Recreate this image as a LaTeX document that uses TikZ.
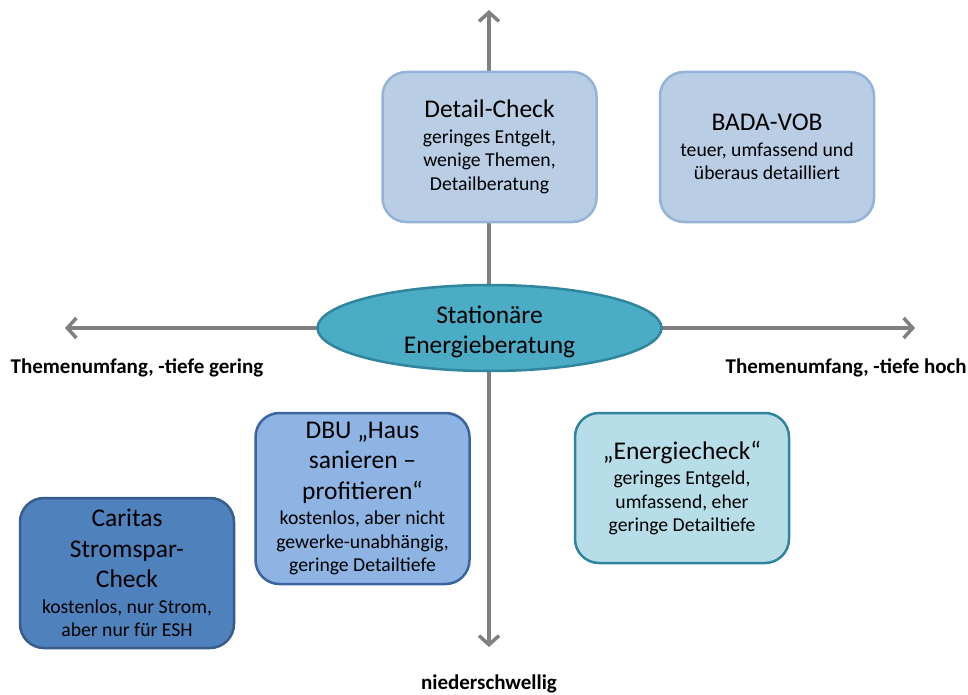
\documentclass[tikz,border=0pt]{standalone}
\usepackage{fontspec}
\setmainfont{Carlito}
\usetikzlibrary{arrows.meta,shapes.geometric}
\definecolor{axisgray}{HTML}{808080}
\definecolor{lbfill}{HTML}{B9CDE5}
\definecolor{lbdraw}{HTML}{95B3D7}
\definecolor{mbfill}{HTML}{8EB4E3}
\definecolor{mbdraw}{HTML}{3A64A0}
\definecolor{dbfill}{HTML}{4F81BD}
\definecolor{dbdraw}{HTML}{385D8A}
\definecolor{tqfill}{HTML}{B7DEE8}
\definecolor{tqdraw}{HTML}{31849B}
\definecolor{elfill}{HTML}{4BACC6}
\definecolor{eldraw}{HTML}{31859C}
\newcommand{\ttlf}{\fontsize{25.5}{30.5}\selectfont}
\newcommand{\smlf}{\fontsize{19.7}{23.5}\selectfont}
\begin{document}
\begin{tikzpicture}[x=1pt,y=-1pt,
  axisline/.style={draw=axisgray,line width=3.5pt,
    arrows={Straight Barb[length=9pt,width=20pt,line width=3.5pt]-Straight Barb[length=9pt,width=20pt,line width=3.5pt]}},
  box/.style={rounded corners=24pt,line width=2.5pt,minimum width=214pt,
    align=center,inner sep=0pt,font=\smlf,text=black},
  lightbox/.style={box,fill=lbfill,draw=lbdraw,minimum height=150pt},
  axislabel/.style={font=\fontsize{21}{25}\selectfont\bfseries,inner sep=0pt}]
\useasboundingbox (0,0) rectangle (968,695);
% axes
\coordinate (top) at (489,10);
\coordinate (bottom) at (489,647);
\coordinate (left) at (65,328);
\coordinate (right) at (915,328);
\draw[axisline] (bottom) -- (top);
\draw[axisline] (left) -- (right);
% boxes
\node[lightbox] (detail) at (489.5,147)
  {{\ttlf Detail-Check}\\[2pt] geringes Entgelt,\\ wenige Themen,\\ Detailberatung};
\node[lightbox] (bada) at (767,147)
  {{\ttlf BADA-VOB}\\[2pt] teuer, umfassend und\\ überaus detailliert};
\node[ellipse,fill=elfill,draw=eldraw,line width=2.5pt,minimum width=344pt,
  minimum height=86pt,inner sep=0pt] (center) at (489.5,328) {};
\node[align=center,font=\ttlf,inner sep=0pt] (centertext) at (489.5,332)
  {Stationäre\\ Energieberatung};
\node[box,fill=mbfill,draw=mbdraw,minimum height=171pt] (dbu) at (362.5,498.5)
  {{\ttlf DBU „Haus}\\[7pt] {\ttlf sanieren –}\\[7pt] {\ttlf profitieren“}\\[2pt]
   kostenlos, aber nicht\\ gewerke-unabhängig,\\ geringe Detailtiefe};
\node[box,fill=dbfill,draw=dbdraw,minimum height=150pt] (caritas) at (127,573)
  {{\ttlf Caritas}\\[7pt] {\ttlf Stromspar-}\\[7pt] {\ttlf Check}\\[2pt]
   kostenlos, nur Strom,\\ aber nur für ESH};
\node[box,fill=tqfill,draw=tqdraw,minimum height=150pt] (energie) at (682,488)
  {{\ttlf „Energiecheck“}\\[2pt] geringes Entgeld,\\ umfassend, eher\\ geringe Detailtiefe};
% axis labels
\node[axislabel] (lgering) at (137,368) {Themenumfang, -tiefe gering};
\node[axislabel,anchor=east] (lhoch) at (967,368) {Themenumfang, -tiefe hoch};
\node[axislabel] (lnieder) at (489,684) {niederschwellig};
\end{tikzpicture}
\end{document}
